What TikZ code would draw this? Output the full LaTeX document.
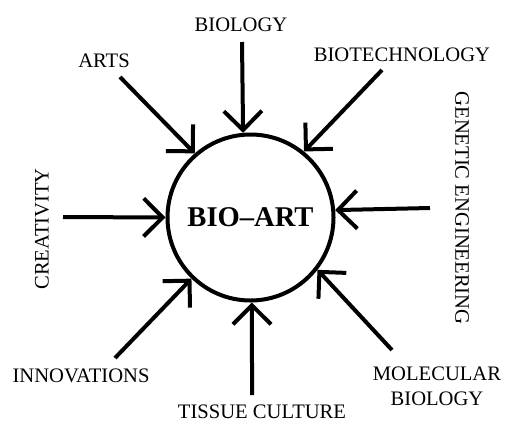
\documentclass[tikz,border=0pt]{standalone}
\usepackage{fontspec}
\setmainfont{Liberation Serif}
\usetikzlibrary{arrows.meta}
\tikzset{
  lbl/.style={font=\fontsize{10.3}{12.5}\selectfont, inner sep=0pt, align=center},
  hub/.style={draw, circle, line width=2pt, minimum size=83pt, inner sep=0pt,
              font=\fontsize{14.3}{16}\selectfont\bfseries},
  ar/.style={-{Straight Barb[length=9.5pt, width=19pt]}, line width=2pt},
}

\begin{document}
\begin{tikzpicture}[x=0.5pt, y=-0.5pt]
  \useasboundingbox (0,0) rectangle (507,423);
  \node[hub] (bioart) at (250.5,217.5) {BIO--ART};

  \node[lbl] (biology) at (241,25) {BIOLOGY};
  \node[lbl] (arts) at (104,61) {ARTS};
  \node[lbl] (biotech) at (402,55) {BIOTECHNOLOGY};
  \node[lbl, rotate=-90] (genetic) at (462,208) {GENETIC ENGINEERING};
  \node[lbl, rotate=90] (creativity) at (42,229) {CREATIVITY};
  \node[lbl] (innov) at (81,376) {INNOVATIONS};
  \node[lbl] (tissue) at (262,412) {TISSUE CULTURE};
  \node[lbl] (molecular) at (437,386) {MOLECULAR\\BIOLOGY};

  \coordinate (biologytail) at (242,42);
  \coordinate (artstail) at (120,77);
  \coordinate (biotechtail) at (382,70);
  \coordinate (genetictail) at (430,208);
  \coordinate (creativitytail) at (63,217);
  \coordinate (innovtail) at (115,358);
  \coordinate (tissuetail) at (252,395);
  \coordinate (moleculartail) at (392,350);

  \draw[ar] (biologytail) -- (bioart.95);
  \draw[ar] (artstail) -- (bioart.131);
  \draw[ar] (biotechtail) -- (bioart.51);
  \draw[ar] (genetictail) -- (bioart.5);
  \draw[ar] (creativitytail) -- (bioart.180);
  \draw[ar] (innovtail) -- (bioart.226);
  \draw[ar] (tissuetail) -- (bioart.271);
  \draw[ar] (moleculartail) -- (bioart.322);
\end{tikzpicture}
\end{document}
